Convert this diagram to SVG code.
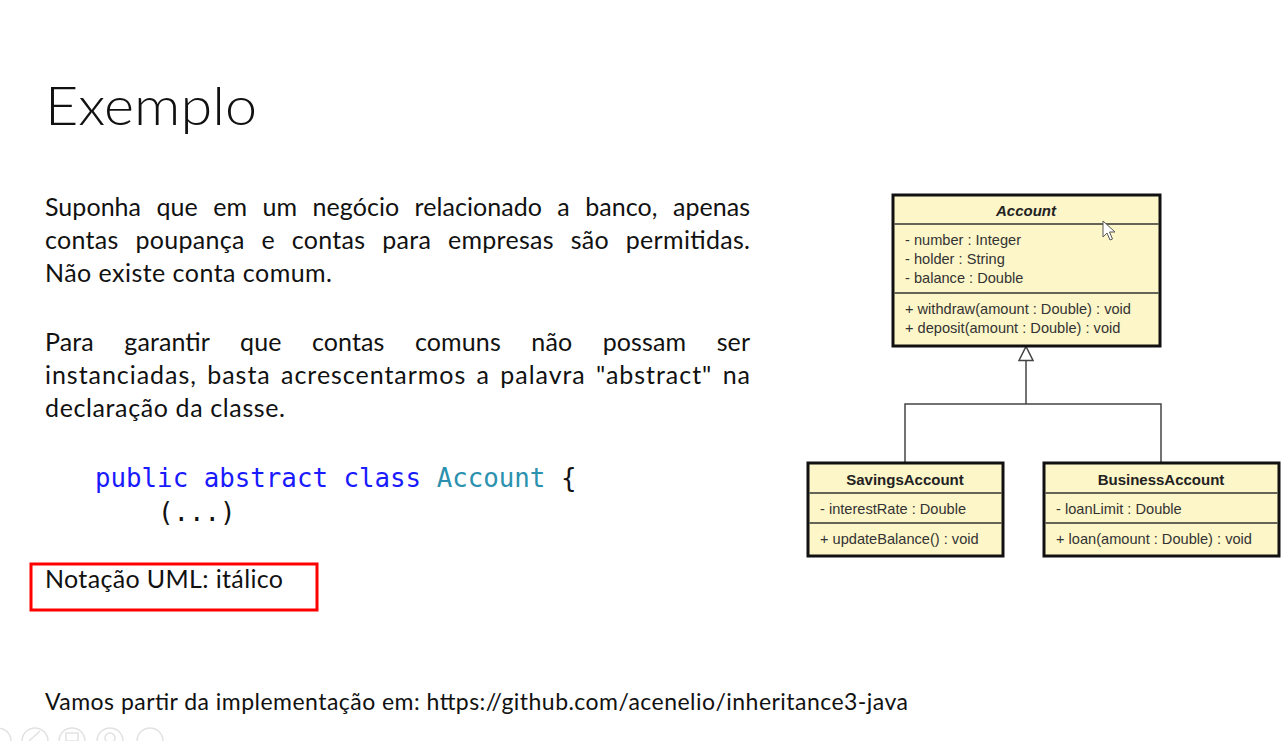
<svg xmlns="http://www.w3.org/2000/svg" width="1287" height="741" viewBox="0 0 1287 741">
  <style>
    .slide { font-family: Lato, "Liberation Sans", sans-serif; fill: #111; }
    .title { font-size: 54px; font-weight: 300; }
    .body { font-size: 25px; }
    .code { font-family: "DejaVu Sans Mono", "Liberation Mono", monospace; font-size: 25.8px; }
    .kw { fill: #1a1aff; }
    .type { fill: #2b91af; }
    .plain { fill: #111; }
    .box { fill: #fdf6c8; stroke: #111; stroke-width: 3; }
    .sep { stroke: #333; stroke-width: 1.5; }
    .uml { font-family: "Liberation Sans", Arial, sans-serif; font-size: 14.6px; fill: #333; }
    .name { font-family: "Liberation Sans", Arial, sans-serif; font-size: 15px; font-weight: bold; fill: #222; text-anchor: middle; }
    .edge { fill: none; stroke: #444; stroke-width: 1.5; }
    .tool { fill: none; stroke: #e2e2e2; stroke-width: 1.5; }
  </style>
  <defs>
    <marker id="inherit" viewBox="0 0 16 16" refX="15" refY="8" markerWidth="16" markerHeight="16" markerUnits="userSpaceOnUse" orient="auto">
      <path d="M1 1 L15 8 L1 15 Z" fill="#fff" stroke="#444" stroke-width="1.5"/>
    </marker>
  </defs>

  <rect width="1287" height="741" fill="#fff"/>

  <!-- slide text -->
  <g id="title">
    <text class="slide title" x="45" y="125" textLength="212" lengthAdjust="spacingAndGlyphs">Exemplo</text>
  </g>

  <g id="paragraph1" class="slide body">
    <text x="45" y="216" word-spacing="9" textLength="705" lengthAdjust="spacing">Suponha que em um negócio relacionado a banco, apenas</text>
    <text x="45" y="249" word-spacing="10" textLength="705" lengthAdjust="spacing">contas poupança e contas para empresas são permitidas.</text>
    <text x="45" y="282" textLength="287" lengthAdjust="spacing">Não existe conta comum.</text>
  </g>

  <g id="paragraph2" class="slide body">
    <text x="45" y="351" word-spacing="24" textLength="705" lengthAdjust="spacing">Para garantir que contas comuns não possam ser</text>
    <text x="45" y="384" word-spacing="3" textLength="705" lengthAdjust="spacing">instanciadas, basta acrescentarmos a palavra "abstract" na</text>
    <text x="45" y="417" textLength="240" lengthAdjust="spacing">declaração da classe.</text>
  </g>

  <g id="code" class="code">
    <text x="95" y="487" xml:space="preserve"><tspan class="kw">public abstract class</tspan> <tspan class="type">Account</tspan> <tspan class="plain">{</tspan></text>
    <text class="plain" x="158" y="521">(...)</text>
  </g>

  <g id="uml-note">
    <rect x="31" y="564" width="286" height="46" fill="none" stroke="#f00" stroke-width="3"/>
    <text class="slide body" x="45" y="588" textLength="238" lengthAdjust="spacing">Notação UML: itálico</text>
  </g>

  <g id="footer">
    <text class="slide" x="45" y="710" font-size="23" textLength="863" lengthAdjust="spacing">Vamos partir da implementação em: https://github.com/acenelio/inheritance3-java</text>
  </g>

  <!-- class diagram connectors -->
  <g id="connectors">
    <path class="edge" d="M905 462 V404 H1161 V462"/>
    <path class="edge" d="M1026 404 V346.5" marker-end="url(#inherit)"/>
  </g>

  <g id="Account">
    <rect class="box" x="893" y="195" width="267" height="151"/>
    <line class="sep" x1="894.5" y1="224" x2="1158.5" y2="224"/>
    <line class="sep" x1="894.5" y1="293" x2="1158.5" y2="293"/>
    <text class="name" x="1026" y="216" font-style="italic">Account</text>
    <text class="uml" x="905" y="245">- number : Integer</text>
    <text class="uml" x="905" y="264">- holder : String</text>
    <text class="uml" x="905" y="283">- balance : Double</text>
    <text class="uml" x="905" y="314">+ withdraw(amount : Double) : void</text>
    <text class="uml" x="905" y="333">+ deposit(amount : Double) : void</text>
  </g>

  <g id="SavingsAccount">
    <rect class="box" x="808" y="463" width="195" height="93"/>
    <line class="sep" x1="809.5" y1="493" x2="1001.5" y2="493"/>
    <line class="sep" x1="809.5" y1="523" x2="1001.5" y2="523"/>
    <text class="name" x="905" y="485">SavingsAccount</text>
    <text class="uml" x="820" y="514">- interestRate : Double</text>
    <text class="uml" x="820" y="544">+ updateBalance() : void</text>
  </g>

  <g id="BusinessAccount">
    <rect class="box" x="1044" y="463" width="235" height="93"/>
    <line class="sep" x1="1045.5" y1="493" x2="1277.5" y2="493"/>
    <line class="sep" x1="1045.5" y1="523" x2="1277.5" y2="523"/>
    <text class="name" x="1161" y="485">BusinessAccount</text>
    <text class="uml" x="1056" y="514">- loanLimit : Double</text>
    <text class="uml" x="1056" y="544">+ loan(amount : Double) : void</text>
  </g>

  <!-- mouse pointer -->
  <path d="M1103 221 V237 L1107 233 L1110 240 L1112.5 239 L1109.5 232 L1115 232 Z" fill="#fff" stroke="#555" stroke-width="1"/>

  <!-- presenter toolbar -->
  <g id="toolbar">
    <circle class="tool" cx="-2" cy="741" r="13"/>
    <circle class="tool" cx="35" cy="741" r="13"/>
    <circle class="tool" cx="72" cy="741" r="13"/>
    <circle class="tool" cx="110" cy="741" r="13"/>
    <circle class="tool" cx="150" cy="741" r="13"/>
    <path class="tool" d="M29 741 L40 731"/>
    <rect class="tool" x="66" y="733" width="12" height="8"/>
    <circle class="tool" cx="110" cy="738" r="5"/>
  </g>
</svg>
